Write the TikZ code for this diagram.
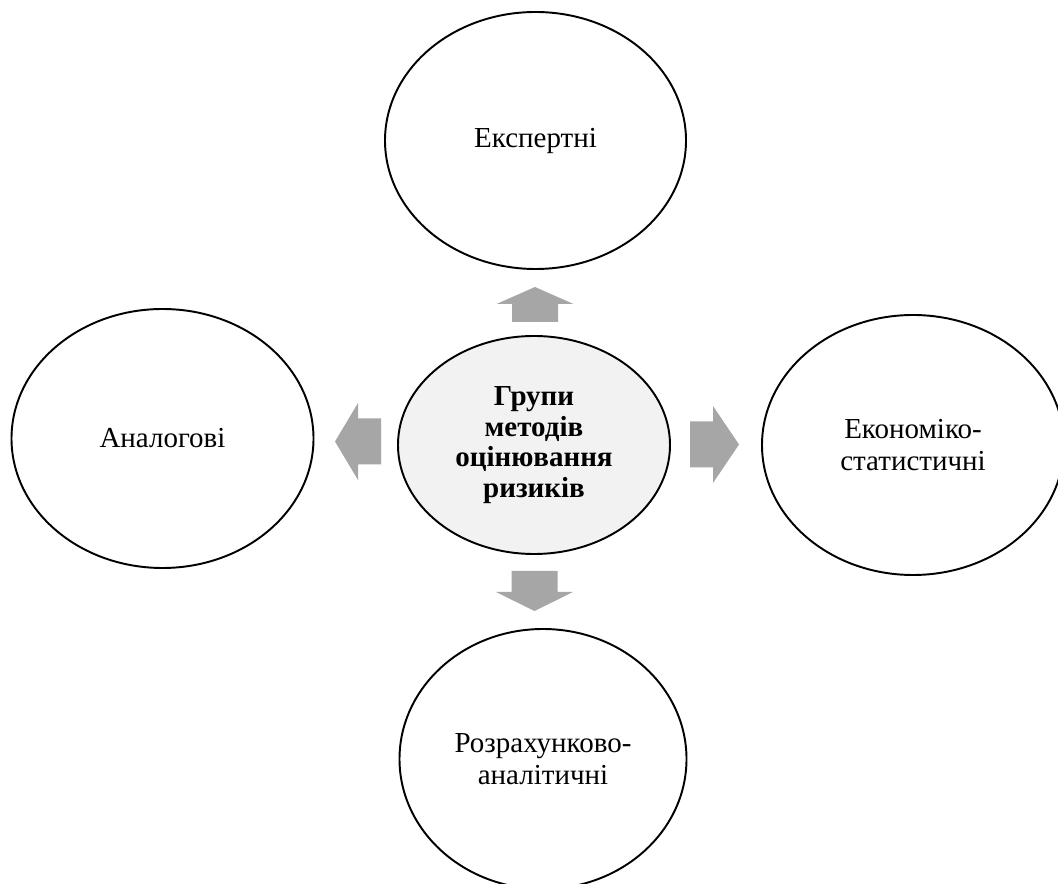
\documentclass[tikz,border=0pt]{standalone}
\usepackage{fontspec}
\setmainfont{Liberation Serif}
\usetikzlibrary{shapes.geometric}
\definecolor{arrowgray}{RGB}{166, 166, 166}
\definecolor{centerfill}{RGB}{242, 242, 242}

\tikzset{
  groupbox/.style={draw=black, line width=1.1pt, ellipse, fill=white, inner sep=0pt,
    align=center, font=\fontsize{16.5}{18}\selectfont, minimum width=6.04cm, minimum height=5.18cm}
}

\begin{document}
\begin{tikzpicture}
\clip (0,0) rectangle (21.16,-17.68);
\fill[white] (0,0) rectangle (21.16,-17.68);

\node[groupbox, fill=centerfill, font=\fontsize{16.5}{17.5}\selectfont\bfseries,
  minimum width=5.44cm, minimum height=4.36cm] (methods) at (10.68,-8.9)
  {Групи\\методів\\оцінювання\\ризиків};

\node[groupbox, minimum width=6.02cm, minimum height=5.14cm] (expert) at (10.71,-2.81) {Експертні};
\node[groupbox] (analog) at (3.25,-8.77) {Аналогові};
\node[groupbox, minimum height=5.2cm] (econ) at (18.26,-8.9) {Економіко-\\статистичні};
\node[groupbox, minimum width=5.74cm, minimum height=5.2cm] (calc) at (10.86,-15.18) {Розрахунково-\\аналітичні};

\foreach \name/\x/\y/\ang/\len/\head in {toexpert/10.70/-6.09/90/0.70/0.34,
    tocalc/10.69/-11.82/270/0.80/0.38, toanalog/7.16/-8.83/180/0.92/0.46,
    toecon/14.29/-8.89/0/0.98/0.52} {
  \coordinate (\name) at (\x,\y);
  \fill[arrowgray, shift={(\name)}, rotate=\ang]
    ({\len/2},0) -- ({\len/2-\head},0.77) -- ({\len/2-\head},0.46) -- ({-\len/2},0.46)
    -- ({-\len/2},-0.46) -- ({\len/2-\head},-0.46) -- ({\len/2-\head},-0.77) -- cycle;
}
\end{tikzpicture}
\end{document}
